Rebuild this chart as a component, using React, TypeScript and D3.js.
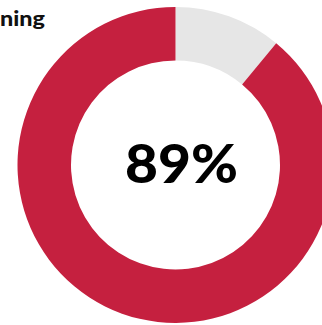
import React from "react";
import * as d3 from "d3";

const categories = ["Yes", "No"];
const values = [89, 11];
const centerLabel = "89%";
const titleText = "ning";
const colors = ["#C5203F", "#E6E6E6"];

export default function App() {
  const width = 322;
  const height = 325;
  const cx = 175.5;
  const cy = 165;
  const outerR = 158;
  const innerR = 104.5;

  const pie = d3
    .pie<number>()
    .sort(null)
    .value((d) => d);
  // gray slice first from 12 o'clock, then red
  const ordered = [values[1], values[0]];
  const orderedColors = [colors[1], colors[0]];
  const arcs = pie(ordered);
  const arc = d3.arc<d3.PieArcDatum<number>>().innerRadius(innerR).outerRadius(outerR);

  return (
    <svg
      width={width}
      height={height}
      style={{ position: "absolute", left: 0, top: 0, background: "#fff" }}
    >
      <g transform={`translate(${cx},${cy})`}>
        {arcs.map((a, i) => (
          <path key={categories[1 - i]} d={arc(a) || ""} fill={orderedColors[i]} />
        ))}
      </g>
      <text
        x={125}
        y={182.5}
        fontFamily="Lato, 'Noto Sans', sans-serif"
        fontWeight={900}
        fontSize={54}
        fill="#000"
        textLength={113}
        lengthAdjust="spacingAndGlyphs"
      >
        {centerLabel}
      </text>
      <text
        x={0}
        y={25.5}
        fontFamily="Lato, 'Noto Sans', sans-serif"
        fontWeight={900}
        fontSize={20.5}
        fill="#111"
        textLength={45}
        lengthAdjust="spacingAndGlyphs"
      >
        {titleText}
      </text>
    </svg>
  );
}
